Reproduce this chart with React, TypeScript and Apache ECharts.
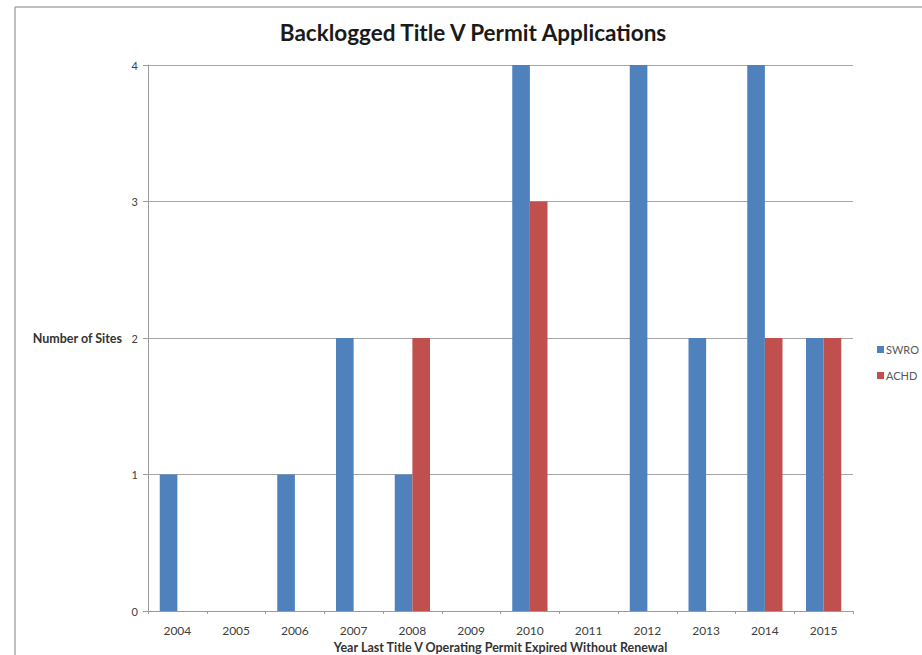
import React, { useEffect, useRef } from "react";
import * as echarts from "echarts";

const years = ["2004", "2005", "2006", "2007", "2008", "2009", "2010", "2011", "2012", "2013", "2014", "2015"];
const swro = [1, 0, 1, 2, 1, 0, 4, 0, 4, 2, 4, 2];
const achd = [0, 0, 0, 0, 2, 0, 3, 0, 0, 0, 2, 2];
const seriesNames = ["SWRO", "ACHD"];
const colors = ["#4F81BD", "#C0504D"];
const titleText = "Backlogged Title V Permit Applications";
const xName = "Year Last Title V Operating Permit Expired Without Renewal";
const yName = "Number of Sites";

const FONT = "Lato, 'Open Sans', sans-serif";

export default function App() {
  const ref = useRef<HTMLDivElement>(null);
  useEffect(() => {
    if (!ref.current) return;
    const chart = echarts.init(ref.current, null, { renderer: "svg" });
    chart.setOption({
      animation: false,
      backgroundColor: "#ffffff",
      textStyle: { fontFamily: FONT },
      title: {
        text: titleText,
        left: 468,
        textAlign: "center",
        top: 16,
        textStyle: { fontFamily: FONT, fontSize: 22.5, fontWeight: "bold", color: "#1a1a1a" },
      },
      legend: {
        orient: "vertical",
        left: 872,
        top: 339,
        itemWidth: 7,
        itemHeight: 7,
        itemGap: 15,
        icon: "rect",
        textStyle: { fontFamily: FONT, fontSize: 11, color: "#595959", padding: [0, 0, 0, -3] },
        data: seriesNames,
      },
      grid: {
        left: 148,
        right: 69,
        top: 65,
        bottom: 44,
        containLabel: false,
        outerBoundsMode: "none",
      },
      xAxis: {
        type: "category",
        data: years,
        name: xName,
        nameLocation: "middle",
        nameGap: 30,
        nameTextStyle: { fontFamily: FONT, fontSize: 12.5, fontWeight: "bold", color: "#333333" },
        axisLine: { lineStyle: { color: "#9a9a9a", width: 1 } },
        axisTick: { show: true, alignWithLabel: false, length: 3, lineStyle: { color: "#9a9a9a" } },
        axisLabel: { fontFamily: FONT, fontSize: 12, color: "#404040", margin: 13 },
      },
      yAxis: {
        type: "value",
        min: 0,
        max: 4,
        interval: 1,
        axisLine: { show: true, lineStyle: { color: "#9a9a9a", width: 1 } },
        axisTick: { show: true, length: 5, lineStyle: { color: "#9a9a9a" } },
        axisLabel: { fontFamily: FONT, fontSize: 11, color: "#404040", margin: 10 },
        splitLine: { show: true, lineStyle: { color: "#a6a6a6", width: 1 } },
      },
      graphic: [
        { type: "line", shape: { x1: 15, y1: 7, x2: 922, y2: 7 }, style: { stroke: "#a8a8a8", lineWidth: 1.5 } },
        { type: "line", shape: { x1: 15, y1: 7, x2: 15, y2: 655 }, style: { stroke: "#a8a8a8", lineWidth: 1.5 } },
        {
          type: "text",
          x: 122,
          y: 338,
          style: {
            text: yName,
            fontFamily: FONT,
            fontSize: 12.5,
            fontWeight: "bold",
            fill: "#333333",
            align: "right",
            verticalAlign: "middle",
          },
        },
      ],
      series: [
        {
          name: seriesNames[0],
          type: "bar",
          data: swro,
          itemStyle: { color: colors[0] },
          barGap: "0%",
          barCategoryGap: "40%",
        },
        {
          name: seriesNames[1],
          type: "bar",
          data: achd,
          itemStyle: { color: colors[1] },
          barGap: "0%",
          barCategoryGap: "40%",
        },
      ],
    });
    return () => chart.dispose();
  }, []);
  return <div ref={ref} style={{ position: "fixed", left: 0, top: 0, width: 922, height: 655 }} />;
}
